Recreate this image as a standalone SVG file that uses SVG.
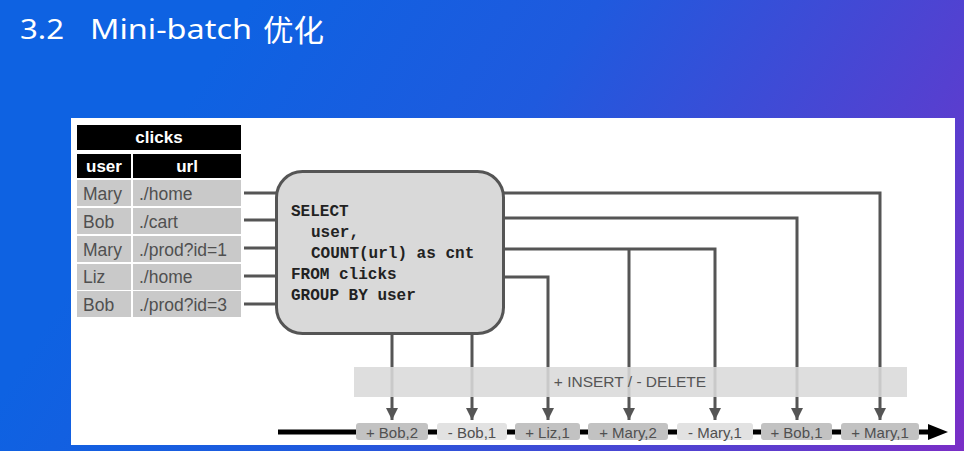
<svg xmlns="http://www.w3.org/2000/svg" width="964" height="451" viewBox="0 0 964 451">
<defs>
<linearGradient id="bg" gradientUnits="userSpaceOnUse" x1="250" y1="0" x2="964" y2="451">
<stop offset="0" stop-color="#0e62e2"/>
<stop offset="0.35" stop-color="#1f5ade"/>
<stop offset="0.75" stop-color="#5540d0"/>
<stop offset="1" stop-color="#7a2ec6"/>
</linearGradient>
<marker id="ah" markerUnits="userSpaceOnUse" markerWidth="14" markerHeight="14" viewBox="0 0 14 14" refX="13" refY="7" orient="auto">
<path d="M1,1 L13,7 L1,13 Z" fill="#555"/>
</marker>
</defs>
<style>
.cell{fill:#c9c9c9}
.hdr{fill:#000}
.ht{font-family:"Liberation Sans",Arial,sans-serif;font-weight:bold;font-size:17px;fill:#fff}
.ct{font-family:"Liberation Sans",Arial,sans-serif;font-size:17.5px;fill:#505050}
.wire{fill:none;stroke:#555;stroke-width:3}
.down{fill:none;stroke:#555;stroke-width:3;marker-end:url(#ah)}
.sql{font-family:"Liberation Mono","DejaVu Sans Mono",monospace;font-weight:bold;font-size:16px;fill:#222}
.ev{font-family:"Liberation Sans",Arial,sans-serif;font-size:15px;fill:#505050;text-anchor:middle}
.plus{fill:#c2c2c2}
.minus{fill:#e2e2e2}
</style>
<rect x="0" y="0" width="964" height="451" fill="url(#bg)"/>
<g id="title" fill="#fff" font-family="'Noto Sans','Noto Sans CJK SC',sans-serif">
<text x="20" y="39" font-size="28" textLength="44" lengthAdjust="spacingAndGlyphs">3.2</text>
<text x="90" y="39" font-size="28" textLength="162" lengthAdjust="spacingAndGlyphs">Mini-batch</text>
<text x="263" y="41" font-size="30" font-family="'Noto Sans CJK SC',sans-serif" textLength="61" lengthAdjust="spacingAndGlyphs">优化</text>
</g>
<rect id="panel" x="71" y="118" width="884" height="327" fill="#fff"/>
<g id="connectors">
<path class="wire" d="M244,193 H277 M244,220 H277 M244,248 H277 M244,276 H277 M244,304 H277"/>
<path class="down" d="M502,193 H880 V420"/>
<path class="down" d="M502,218 H797 V420"/>
<path class="down" d="M502,249 H715 V420"/>
<path class="down" d="M629,249 V420"/>
<path class="down" d="M502,277 H548 V420"/>
<path class="down" d="M392,334 V420"/>
<path class="down" d="M472,334 V420"/>
</g>
<g id="clicks-table">
<rect class="hdr" x="77" y="125" width="164" height="25"/>
<text class="ht" x="159" y="143" text-anchor="middle">clicks</text>
<rect class="hdr" x="77" y="154" width="54" height="24"/>
<rect class="hdr" x="133" y="154" width="108" height="24"/>
<text class="ht" x="104" y="172" text-anchor="middle">user</text>
<text class="ht" x="187" y="172" text-anchor="middle">url</text>
<rect class="cell" x="77" y="180" width="54" height="26"/><rect class="cell" x="133" y="180" width="108" height="26"/>
<rect class="cell" x="77" y="208" width="54" height="26"/><rect class="cell" x="133" y="208" width="108" height="26"/>
<rect class="cell" x="77" y="236" width="54" height="26"/><rect class="cell" x="133" y="236" width="108" height="26"/>
<rect class="cell" x="77" y="264" width="54" height="26"/><rect class="cell" x="133" y="264" width="108" height="26"/>
<rect class="cell" x="77" y="291" width="54" height="26"/><rect class="cell" x="133" y="291" width="108" height="26"/>
<text class="ct" x="83" y="199.5">Mary</text><text class="ct" x="139" y="199.5">./home</text>
<text class="ct" x="83" y="227.5">Bob</text><text class="ct" x="139" y="227.5">./cart</text>
<text class="ct" x="83" y="255.5">Mary</text><text class="ct" x="139" y="255.5">./prod?id=1</text>
<text class="ct" x="83" y="283">Liz</text><text class="ct" x="139" y="283">./home</text>
<text class="ct" x="83" y="310.5">Bob</text><text class="ct" x="139" y="310.5">./prod?id=3</text>
</g>
<g id="query">
<rect x="276.5" y="171.5" width="227" height="162" rx="26" fill="#d9d9d9" stroke="#555" stroke-width="3"/>
<text class="sql" x="291" y="216">SELECT</text>
<text class="sql" x="311" y="237">user,</text>
<text class="sql" x="311" y="258">COUNT(url) as cnt</text>
<text class="sql" x="291" y="279">FROM clicks</text>
<text class="sql" x="291" y="300">GROUP BY user</text>
</g>
<g id="insert-delete">
<rect x="354" y="367" width="553" height="30" fill="#dadada" fill-opacity="0.88"/>
<text x="630" y="387" font-family="'Liberation Sans',Arial,sans-serif" font-size="15.5" fill="#555" text-anchor="middle">+ INSERT / - DELETE</text>
</g>
<g id="timeline">
<rect x="278" y="429.5" width="652" height="5" fill="#000"/>
<polygon points="928,424 948,432 928,440" fill="#000"/>
</g>
<g id="ev1"><rect class="plus" x="356" y="423" width="72" height="17" rx="3"/><text class="ev" x="392" y="437.5">+ Bob,2</text></g>
<g id="ev2"><rect class="minus" x="437" y="423" width="70" height="17" rx="3"/><text class="ev" x="472" y="437.5">- Bob,1</text></g>
<g id="ev3"><rect class="plus" x="515" y="423" width="65" height="17" rx="3"/><text class="ev" x="547.5" y="437.5">+ Liz,1</text></g>
<g id="ev4"><rect class="plus" x="588" y="423" width="80" height="17" rx="3"/><text class="ev" x="628" y="437.5">+ Mary,2</text></g>
<g id="ev5"><rect class="minus" x="677" y="423" width="76" height="17" rx="3"/><text class="ev" x="715" y="437.5">- Mary,1</text></g>
<g id="ev6"><rect class="plus" x="761" y="423" width="71" height="17" rx="3"/><text class="ev" x="796.5" y="437.5">+ Bob,1</text></g>
<g id="ev7"><rect class="plus" x="841" y="423" width="78" height="17" rx="3"/><text class="ev" x="880" y="437.5">+ Mary,1</text></g>
</svg>
